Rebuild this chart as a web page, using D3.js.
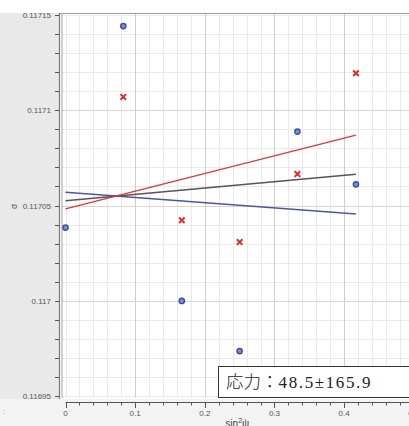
<!DOCTYPE html>
<html>
<head>
<meta charset="utf-8">
<script src="https://cdn.jsdelivr.net/npm/d3@7"></script>
<style>
  html, body { margin: 0; padding: 0; background: #ffffff; }
  svg { display: block; }
</style>
</head>
<body>
<svg id="chart" width="409" height="426"></svg>
<script>
// sin²ψ positions of the measurements
const sin2psi = [0, 0.083, 0.167, 0.25, 0.333, 0.417];
// lattice values, ψ- series (blue circles)
const dMinus = [0.1170384, 0.1171442, 0.1169999, 0.1169736, 0.1170888, 0.1170611];
// lattice values, ψ+ series (red crosses); no reading at ψ = 0
const sin2psiPlus = [0.083, 0.167, 0.25, 0.333, 0.417];
const dPlus = [0.1171070, 0.1170422, 0.1170308, 0.1170665, 0.1171194];
// fitted lines: value at sin²ψ = 0 and at the last sin²ψ
const fitX = [0, 0.417];
const fitPlus = [0.1170482, 0.1170870];
const fitMinus = [0.1170569, 0.1170455];
const fitMean = [0.1170525, 0.1170664];
// axis ticks
const xTicks = [0, 0.1, 0.2, 0.3, 0.4, 0.5];
const yTicks = [0.11695, 0.117, 0.11705, 0.1171, 0.11715];
const yTickLabels = ["0.11695", "0.117", "0.11705", "0.1171", "0.11715"];
const resultLabel = "48.5\u00B1165.9";

const svg = d3.select("#chart");
const W = 409, H = 426;

const x = d3.scaleLinear().domain([0, 0.5]).range([65.5, 413.75]);
const y = d3.scaleLinear().domain([0.11695, 0.11715]).range([396, 15]);

const plot = { left: 62, top: 13, right: W, bottom: 397.5 };

// panel backgrounds
svg.append("rect").attr("x", 0).attr("y", 0).attr("width", W).attr("height", H).attr("fill", "#ffffff");
svg.append("rect").attr("x", 0).attr("y", 13).attr("width", 59).attr("height", 386).attr("fill", "#e9e9e9");
svg.append("rect").attr("x", 0).attr("y", 399).attr("width", W).attr("height", H - 399).attr("fill", "#f3f3f3");
svg.append("rect").attr("x", plot.left).attr("y", plot.top)
  .attr("width", plot.right - plot.left).attr("height", plot.bottom - plot.top).attr("fill", "#ffffff");

const grid = svg.append("g");
// minor grid
const xMinor = d3.range(0, 0.5001, 0.02);
const yMinor = d3.range(0, 21).map(i => 0.11695 + i * 0.00001);
grid.selectAll(".vm").data(xMinor).join("line")
  .attr("x1", d => Math.round(x(d)) + 0.5).attr("x2", d => Math.round(x(d)) + 0.5)
  .attr("y1", plot.top).attr("y2", plot.bottom)
  .attr("stroke", "#e9e9e9").attr("stroke-width", 1);
grid.selectAll(".hm").data(yMinor).join("line")
  .attr("x1", plot.left).attr("x2", plot.right)
  .attr("y1", d => Math.round(y(d)) + 0.5).attr("y2", d => Math.round(y(d)) + 0.5)
  .attr("stroke", "#e9e9e9").attr("stroke-width", 1);
// major grid
grid.selectAll(".vM").data(xTicks.filter(d => d > 0)).join("line")
  .attr("x1", d => Math.round(x(d)) + 0.5).attr("x2", d => Math.round(x(d)) + 0.5)
  .attr("y1", plot.top).attr("y2", plot.bottom)
  .attr("stroke", "#d8cbc4").attr("stroke-width", 1);
grid.selectAll(".hM").data(yTicks.slice(1, -1)).join("line")
  .attr("x1", plot.left).attr("x2", plot.right)
  .attr("y1", d => Math.round(y(d)) + 0.5).attr("y2", d => Math.round(y(d)) + 0.5)
  .attr("stroke", "#dcd4d0").attr("stroke-width", 1);

// frame
svg.append("line").attr("x1", 60).attr("x2", W).attr("y1", 13.5).attr("y2", 13.5)
  .attr("stroke", "#9a9a9a").attr("stroke-width", 1.2);
svg.append("line").attr("x1", 59.5).attr("x2", 59.5).attr("y1", 13).attr("y2", 399)
  .attr("stroke", "#7a7a7a").attr("stroke-width", 1.2);
svg.append("line").attr("x1", 62).attr("x2", 62).attr("y1", 13).attr("y2", 398)
  .attr("stroke", "#b0b0b0").attr("stroke-width", 1.2);

// y axis ticks and labels
const yAxis = svg.append("g");
yAxis.selectAll("line").data(yMinor).join("line")
  .attr("x1", 55).attr("x2", 59)
  .attr("y1", d => Math.round(y(d)) + 0.5).attr("y2", d => Math.round(y(d)) + 0.5)
  .attr("stroke", "#555").attr("stroke-width", 1);
yAxis.selectAll("text").data(yTicks).join("text")
  .attr("x", 51).attr("y", d => y(d) + 3)
  .attr("text-anchor", "end")
  .attr("font-family", "Liberation Sans, Arial, sans-serif")
  .attr("font-size", 8).attr("fill", "#555")
  .text((d, i) => yTickLabels[i]);
svg.append("text")
  .attr("transform", "translate(17," + (y(0.11705) + 1) + ") rotate(-90)")
  .attr("text-anchor", "middle")
  .attr("font-family", "DejaVu Sans, sans-serif")
  .attr("font-size", 8).attr("fill", "#555")
  .text("\u03C3");

// x axis, drawn below the plot
const xAxisY = 402.5;
const xAxis = svg.append("g");
xAxis.append("line").attr("x1", x(0)).attr("x2", W).attr("y1", xAxisY).attr("y2", xAxisY)
  .attr("stroke", "#555").attr("stroke-width", 1);
xAxis.selectAll(".mt").data(xMinor).join("line")
  .attr("x1", d => Math.round(x(d)) + 0.5).attr("x2", d => Math.round(x(d)) + 0.5)
  .attr("y1", xAxisY).attr("y2", xAxisY + 3)
  .attr("stroke", "#555").attr("stroke-width", 1);
xAxis.selectAll(".Mt").data(xTicks).join("line")
  .attr("x1", d => Math.round(x(d)) + 0.5).attr("x2", d => Math.round(x(d)) + 0.5)
  .attr("y1", xAxisY).attr("y2", xAxisY + 5.5)
  .attr("stroke", "#555").attr("stroke-width", 1);
xAxis.selectAll("text").data(xTicks).join("text")
  .attr("x", d => x(d)).attr("y", 416)
  .attr("text-anchor", "middle")
  .attr("font-family", "Liberation Sans, Arial, sans-serif")
  .attr("font-size", 8).attr("fill", "#555")
  .text(d => d === 0 ? "0" : d3.format(".1f")(d));
const xTitle = svg.append("text")
  .attr("x", (x(0) + W) / 2).attr("y", 426.5)
  .attr("text-anchor", "middle")
  .attr("font-family", "Liberation Sans, Arial, sans-serif")
  .attr("font-size", 10).attr("fill", "#444");
xTitle.append("tspan").text("sin");
xTitle.append("tspan").attr("dy", -4).attr("font-size", 7).text("2");
xTitle.append("tspan").attr("dy", 4).text("\u03C8");
svg.append("text").attr("x", 3).attr("y", 414)
  .attr("font-family", "Liberation Sans, Arial, sans-serif")
  .attr("font-size", 8).attr("fill", "#888").text(":");

// fitted lines
const line = d3.line().x(d => x(d[0])).y(d => y(d[1]));
const fits = [
  { vals: fitMinus, color: "#4a56a8", w: 1.5 },
  { vals: fitMean, color: "#555555", w: 1.5 },
  { vals: fitPlus, color: "#e0383a", w: 1.3 }
];
svg.append("g").selectAll("path").data(fits).join("path")
  .attr("d", f => line(fitX.map((xv, i) => [xv, f.vals[i]])))
  .attr("fill", "none")
  .attr("stroke", f => f.color)
  .attr("stroke-width", f => f.w);

// ψ- points
svg.append("g").selectAll("circle").data(sin2psi.map((xv, i) => [xv, dMinus[i]])).join("circle")
  .attr("cx", d => x(d[0])).attr("cy", d => y(d[1]))
  .attr("r", 2.6)
  .attr("fill", "#8090d0")
  .attr("stroke", "#3f4ea6").attr("stroke-width", 1.5);

// ψ+ points
const cross = d3.symbol().type(d3.symbolX || d3.symbolTimes).size(22);
svg.append("g").selectAll("path").data(sin2psiPlus.map((xv, i) => [xv, dPlus[i]])).join("path")
  .attr("transform", d => "translate(" + x(d[0]) + "," + y(d[1]) + ")")
  .attr("d", cross)
  .attr("fill", "none")
  .attr("stroke", "#e02a2a").attr("stroke-width", 2);

// result box
const box = svg.append("g");
box.append("rect").attr("x", 218.5).attr("y", 366.5).attr("width", 200).attr("height", 31)
  .attr("fill", "#ffffff").attr("stroke", "#333").attr("stroke-width", 1);
const res = box.append("text").attr("x", 226).attr("y", 388).attr("fill", "#222");
res.append("tspan")
  .attr("font-family", "Noto Sans CJK JP, sans-serif").attr("font-weight", 300)
  .attr("font-size", 17.5).text("\u5FDC\u529B\uFF1A");
res.append("tspan")
  .attr("font-family", "Liberation Serif, Times New Roman, serif")
  .attr("font-size", 17)
  .attr("textLength", 92).attr("lengthAdjust", "spacing")
  .text(resultLabel);
</script>
</body>
</html>
